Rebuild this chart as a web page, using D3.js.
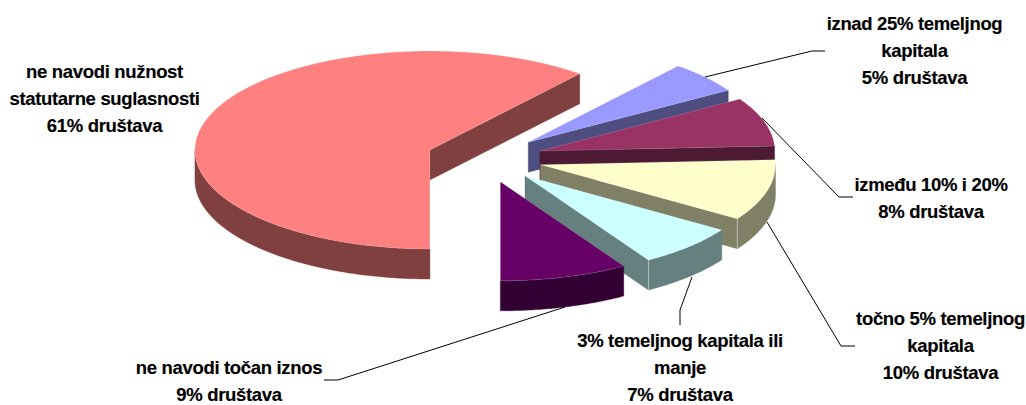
<!DOCTYPE html>
<html>
<head>
<meta charset="utf-8">
<script src="https://cdn.jsdelivr.net/npm/d3@7"></script>
<style>
html, body { margin: 0; padding: 0; background: #fff; }
svg { display: block; }
text { font-family: "Liberation Sans", Arial, sans-serif; font-weight: bold; font-size: 18.5px; letter-spacing: -0.33px; fill: #000; stroke: #000; stroke-width: 0.15px; }
</style>
</head>
<body>
<div id="chart"></div>
<script>
// clockwise from the start angle, like the source chart
const categories = ['iznad 25% temeljnog kapitala', 'između 10% i 20%', 'točno 5% temeljnog kapitala',
    '3% temeljnog kapitala ili manje', 'ne navodi točan iznos', 'ne navodi nužnost statutarne suglasnosti'];
// the printed labels are rounded
const shares = [5.2, 8, 10, 7, 8.8, 61];
const topColors = ['#9999ff', '#993366', '#ffffcc', '#ccffff', '#660066', '#ff8080'];
const sideColors = ['#4d4d80', '#4d1a33', '#808066', '#668080', '#330033', '#804040'];
const labelLines = [
    ['iznad 25% temeljnog', 'kapitala', '5% društava'],
    ['između 10% i 20%', '8% društava'],
    ['točno 5% temeljnog', 'kapitala', '10% društava'],
    ['3% temeljnog kapitala ili', 'manje', '7% društava'],
    ['ne navodi točan iznos', '9% društava'],
    ['ne navodi nužnost', 'statutarne suglasnosti', '61% društava']
];
const labelCenters = [[914.5, 30], [931, 191], [940.5, 325], [680, 347], [229, 374], [104.5, 78]];
const leaders = [
    [[705, 77], [812, 51], [825, 51]],
    [[762, 118], [839, 197], [853, 197]],
    [[767, 222], [841, 346], [855, 346]],
    [[692, 277], [680, 310], [680, 325]],
    [[565, 307], [338, 380], [324, 380]]
];

const WIDTH = 1026, HEIGHT = 405;
const rx = 235, ry = 99, depth = 30;
const cx = 484.5, cy = 158.3, explode = 58;
const startAngle = 39.6 * Math.PI / 180;

const svg = d3.select('#chart').append('svg').attr('width', WIDTH).attr('height', HEIGHT);

const pie = d3.pie().sort(null).startAngle(startAngle).endAngle(startAngle + 2 * Math.PI);
const slices = pie(shares);

// angle 0 is 12 o'clock, going clockwise, squashed onto the ellipse
const onEllipse = (c, a, dy = 0) => [c[0] + rx * Math.sin(a), c[1] - ry * Math.cos(a) + dy];
const line = d3.line();

function sliceCentre(d) {
    const mid = (d.startAngle + d.endAngle) / 2;
    return [cx + explode * Math.sin(mid), cy - explode * (ry / rx) * Math.cos(mid)];
}

function arcPoints(c, a0, a1, dy = 0) {
    const n = Math.max(2, Math.ceil((a1 - a0) * 90));
    return d3.range(n + 1).map(i => onEllipse(c, a0 + (a1 - a0) * i / n, dy));
}

function drawSlice(d, i) {
    const c = sliceCentre(d);
    const g = svg.append('g');
    const side = sideColors[i];

    // radial walls, only when they face the viewer
    [[d.endAngle, Math.sin(d.endAngle) > 0.001], [d.startAngle, Math.sin(d.startAngle) < -0.001]]
        .filter(w => w[1])
        .forEach(w => {
            const p = onEllipse(c, w[0]);
            g.append('path')
                .attr('d', line([c, p, [p[0], p[1] + depth], [c[0], c[1] + depth]]) + 'Z')
                .attr('fill', side)
                .attr('stroke', side).attr('stroke-width', 0.4);
        });

    // outer rim, the front half of the ellipse only
    const a0 = Math.max(d.startAngle, Math.PI / 2);
    const a1 = Math.min(d.endAngle, 1.5 * Math.PI);
    if (a1 > a0) {
        const rim = arcPoints(c, a0, a1).concat(arcPoints(c, a0, a1, depth).reverse());
        g.append('path').attr('d', line(rim) + 'Z')
            .attr('fill', side)
            .attr('stroke', side).attr('stroke-width', 0.4);
    }

    // seam where the wall meets the rim
    if (d.endAngle < Math.PI && d.endAngle > Math.PI / 2) {
        const p = onEllipse(c, d.endAngle);
        g.append('path')
            .attr('d', line([p, [p[0], p[1] + depth]]))
            .attr('stroke', '#fff').attr('stroke-opacity', 0.45).attr('fill', 'none');
    }

    g.append('path')
        .attr('d', line([c].concat(arcPoints(c, d.startAngle, d.endAngle))) + 'Z')
        .attr('fill', topColors[i])
        .attr('stroke', '#fff').attr('stroke-opacity', 0.25).attr('stroke-width', 0.6);
}

// back to front
[5, 0, 1, 2, 3, 4].forEach(i => drawSlice(slices[i], i));

svg.append('g').selectAll('path').data(leaders).join('path')
    .attr('d', d => line(d))
    .attr('fill', 'none')
    .attr('stroke', '#000')
    .attr('stroke-width', 1);

const labels = svg.append('g').selectAll('text').data(labelLines).join('text')
    .attr('text-anchor', 'middle')
    .attr('data-category', (d, i) => categories[i]);

labels.selectAll('tspan').data((d, i) => d.map(t => ({t: t, i: i}))).join('tspan')
    .attr('x', d => labelCenters[d.i][0])
    .attr('y', (d, j) => labelCenters[d.i][1] + j * 27)
    .text(d => d.t);
</script>
</body>
</html>
